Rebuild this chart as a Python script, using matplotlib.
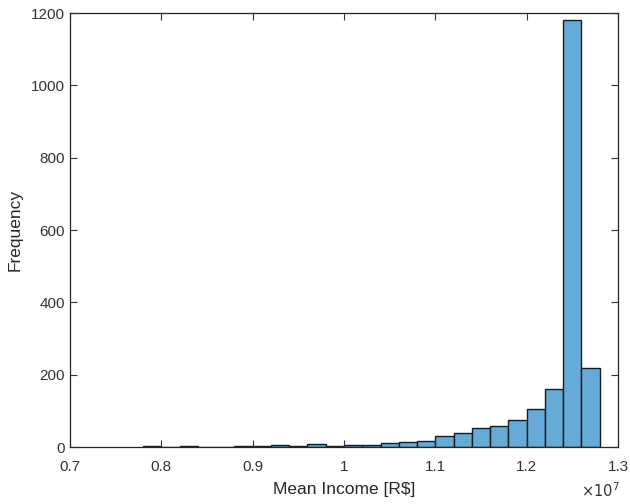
import numpy as np
import matplotlib
matplotlib.use("Agg")
import matplotlib.pyplot as plt

plt.rcParams["font.family"] = ["Liberation Sans", "DejaVu Sans"]

# histogram bins in units of 1e7 R$, width 0.02
bin_start = 0.78
bin_width = 0.02
counts = [3, 1, 2, 0, 1, 2, 3, 5, 3, 9, 4, 7, 7, 12, 15, 17,
          30, 40, 54, 59, 74, 104, 160, 1180, 218]

x_ticks = [0.7, 0.8, 0.9, 1.0, 1.1, 1.2, 1.3]
x_labels = ["0.7", "0.8", "0.9", "1", "1.1", "1.2", "1.3"]
y_ticks = [0, 200, 400, 600, 800, 1000, 1200]

edges = bin_start + bin_width * np.arange(len(counts))

fig = plt.figure(figsize=(6.3, 5.04), dpi=100)
ax = fig.add_axes([0.111, 0.113, 0.870, 0.861])

ax.bar(edges, counts, width=bin_width, align="edge",
       color="#66aad7", edgecolor="#1a1a1a", linewidth=1.0)

ax.set_xlim(0.7, 1.3)
ax.set_ylim(0, 1200)
ax.set_xticks(x_ticks)
ax.set_xticklabels(x_labels)
ax.set_yticks(y_ticks)

ax.tick_params(direction="in", top=True, right=True, length=5,
               labelsize=11, colors="#333333", width=0.8)
ax.tick_params(axis="x", pad=9)
for s in ax.spines.values():
    s.set_color("#262626")
    s.set_linewidth(0.9)

ax.set_xlabel("Mean Income [R$]", fontsize=12.5, color="#262626", labelpad=6)
ax.set_ylabel("Frequency", fontsize=12.5, color="#262626", labelpad=6)
ax.text(1.003, -0.08, r"$\times10^{7}$", transform=ax.transAxes,
        ha="right", va="top", fontsize=10.5, color="#333333")

fig.savefig("out.png", dpi=100)
